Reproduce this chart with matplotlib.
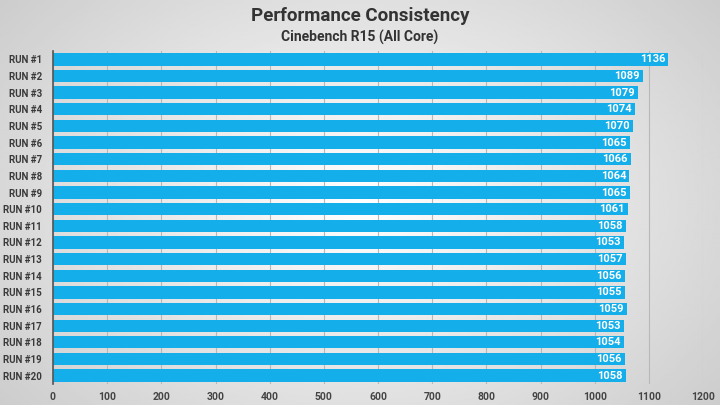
import numpy as np
import matplotlib
matplotlib.use('Agg')
import matplotlib.pyplot as plt

plt.rcParams['font.family'] = ['Roboto', 'DejaVu Sans']

# data
runs = ['RUN #%d' % i for i in range(1, 21)]
scores = [1136, 1089, 1079, 1074, 1070, 1065, 1066, 1064, 1065, 1061,
          1058, 1053, 1057, 1056, 1055, 1059, 1053, 1054, 1056, 1058]
xticks = [0, 100, 200, 300, 400, 500, 600, 700, 800, 900, 1000, 1100, 1200]

fig = plt.figure(figsize=(7.2, 4.05), dpi=100)

# radial grey background
bg = fig.add_axes([0, 0, 1, 1], zorder=0)
yy, xx = np.mgrid[-1:1:200j, -1:1:360j]
rr = np.sqrt(xx ** 2 + (yy * 0.8) ** 2)
bg.imshow(1 - 0.2 * np.clip(rr, 0, 1.3) / 1.3, cmap='gray', vmin=0, vmax=1,
          aspect='auto', extent=[0, 1, 0, 1], interpolation='bilinear')
bg.axis('off')

ax = fig.add_axes([0.0736, 0.052, 0.903, 0.822], zorder=1)
ax.set_facecolor('none')

y = np.arange(len(runs))
ax.barh(y, scores, height=0.74, color='#14aeea', zorder=2)
for yi, v in zip(y, scores):
    ax.text(v - 6, yi, str(v), ha='right', va='center', color='white',
            fontsize=8, fontweight='bold', zorder=3)

ax.set_ylim(len(runs) - 0.5, -0.5)
ax.set_yticks(y)
ax.set_yticklabels(runs, fontsize=7, fontweight='bold', color='#3a3a3a')
ax.set_xlim(0, 1200)
ax.set_xticks(xticks)
ax.set_xticklabels([str(t) for t in xticks], fontsize=7.5, fontweight='bold', color='#444444')
ax.tick_params(length=0, pad=6)
ax.tick_params(axis='y', pad=8)
ax.grid(axis='x', color='#b8b8b8', linewidth=0.8, zorder=0)
for s in ['top', 'right', 'bottom']:
    ax.spines[s].set_visible(False)
ax.spines['left'].set_color('#555555')
ax.spines['left'].set_linewidth(1.2)

fig.text(0.5, 0.96, 'Performance Consistency', ha='center', va='center',
         fontsize=13.5, fontweight='bold', color='#333333')
fig.text(0.5, 0.908, 'Cinebench R15 (All Core)', ha='center', va='center',
         fontsize=10, fontweight='bold', color='#333333')

fig.savefig('out.png', dpi=100)
